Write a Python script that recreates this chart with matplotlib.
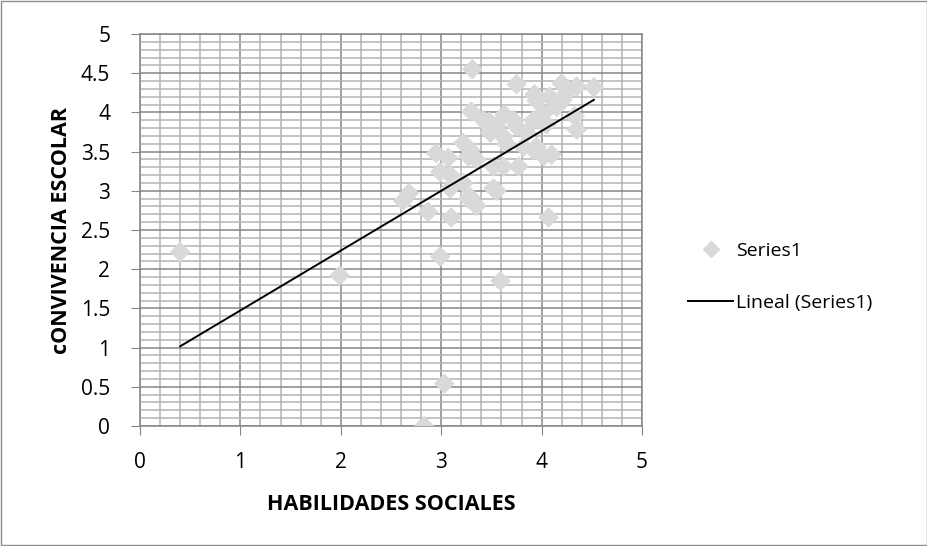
import matplotlib.pyplot as plt
import numpy as np
from matplotlib.ticker import MultipleLocator
from matplotlib.lines import Line2D

# values
habilidades = [
    0.40, 1.99, 2.83, 3.03, 2.99, 3.59, 4.07, 2.87, 3.10, 3.35,
    3.27, 2.62, 2.68, 3.31, 3.75, 3.93, 4.08, 4.20, 4.35, 4.52,
    4.21, 4.15, 3.30, 3.48, 3.63, 3.55, 3.75, 3.92, 4.02, 4.33,
    4.35, 3.49, 3.85, 3.95, 4.10, 4.02, 2.95, 3.07, 3.22, 3.29,
    2.99, 3.09, 3.27, 3.22, 3.09, 3.52, 3.62, 3.77, 3.52, 3.29,
    3.42, 3.72, 3.62, 3.98, 3.92, 3.82, 3.55, 3.35, 4.05, 4.25,
    3.65, 3.95,
]
convivencia = [
    2.22, 1.92, 0.00, 0.54, 2.16, 1.85, 2.66, 2.73, 2.66, 2.81,
    2.90, 2.87, 2.97, 4.55, 4.36, 4.23, 4.20, 4.37, 4.33, 4.32,
    4.16, 4.07, 4.01, 3.88, 3.97, 3.82, 3.82, 3.90, 3.99, 3.95,
    3.78, 3.74, 3.74, 3.56, 3.46, 3.44, 3.48, 3.42, 3.61, 3.52,
    3.24, 3.20, 3.44, 3.10, 3.03, 3.31, 3.31, 3.31, 3.03, 2.92,
    3.90, 3.90, 3.69, 3.90, 3.52, 3.56, 3.00, 3.40, 3.85, 4.25,
    3.60, 4.15,
]
x_ticks = [0, 1, 2, 3, 4, 5]
y_ticks = [0, 0.5, 1, 1.5, 2, 2.5, 3, 3.5, 4, 4.5, 5]

plt.rcParams["font.family"] = ["Open Sans", "DejaVu Sans"]

fig = plt.figure(figsize=(9.28, 5.46), dpi=100)
ax = fig.add_axes([140 / 928, 120 / 546, 502 / 928, 392 / 546])

x = np.array(habilidades)
y = np.array(convivencia)
ax.scatter(x, y, marker="D", s=110, color="#D9D9D9", edgecolors="none", zorder=3)

# linear trendline over the data range
slope, intercept = np.polyfit(x, y, 1)
xl = np.array([x.min(), x.max()])
ax.plot(xl, slope * xl + intercept, color="black", linewidth=1.4, zorder=4)

ax.set_xlim(0, 5)
ax.set_ylim(0, 5)
ax.set_xticks(x_ticks)
ax.set_yticks(y_ticks)
ax.set_yticklabels([f"{v:g}" for v in y_ticks])
ax.xaxis.set_minor_locator(MultipleLocator(0.2))
ax.yaxis.set_minor_locator(MultipleLocator(0.1))
ax.grid(True, which="minor", color="#B4B4B4", linewidth=1.1, zorder=0)
ax.grid(True, which="major", color="#868686", linewidth=1.1, zorder=1)
ax.set_axisbelow(True)
ax.tick_params(which="minor", length=0)
ax.tick_params(which="major", length=6.5, color="#868686", labelsize=15)
ax.tick_params(axis="x", pad=12)
ax.tick_params(axis="y", pad=15)
for s in ax.spines.values():
    s.set_color("#868686")
    s.set_linewidth(1.1)

ax.set_xlabel("HABILIDADES SOCIALES", fontsize=15.5, fontweight="bold", labelpad=15)
ax.set_ylabel("cONVIVENCIA ESCOLAR", fontsize=15.5, fontweight="bold", labelpad=6)

handles = [
    Line2D([], [], marker="D", linestyle="none", color="#D9D9D9", markersize=8),
    Line2D([], [], color="black", linewidth=1.4),
]
fig.legend(handles, ["Series1", "Lineal (Series1)"], loc="center left",
           bbox_to_anchor=(671 / 928, 1 - 277 / 546), frameon=False,
           fontsize=14, handlelength=2.3, handletextpad=0.15, labelspacing=1.75)

fig.add_artist(plt.Rectangle((0.001, 0.001), 0.998, 0.998, transform=fig.transFigure,
                             fill=False, edgecolor="#8C8C8C", linewidth=1.0))

fig.savefig("out.png", dpi=100)
